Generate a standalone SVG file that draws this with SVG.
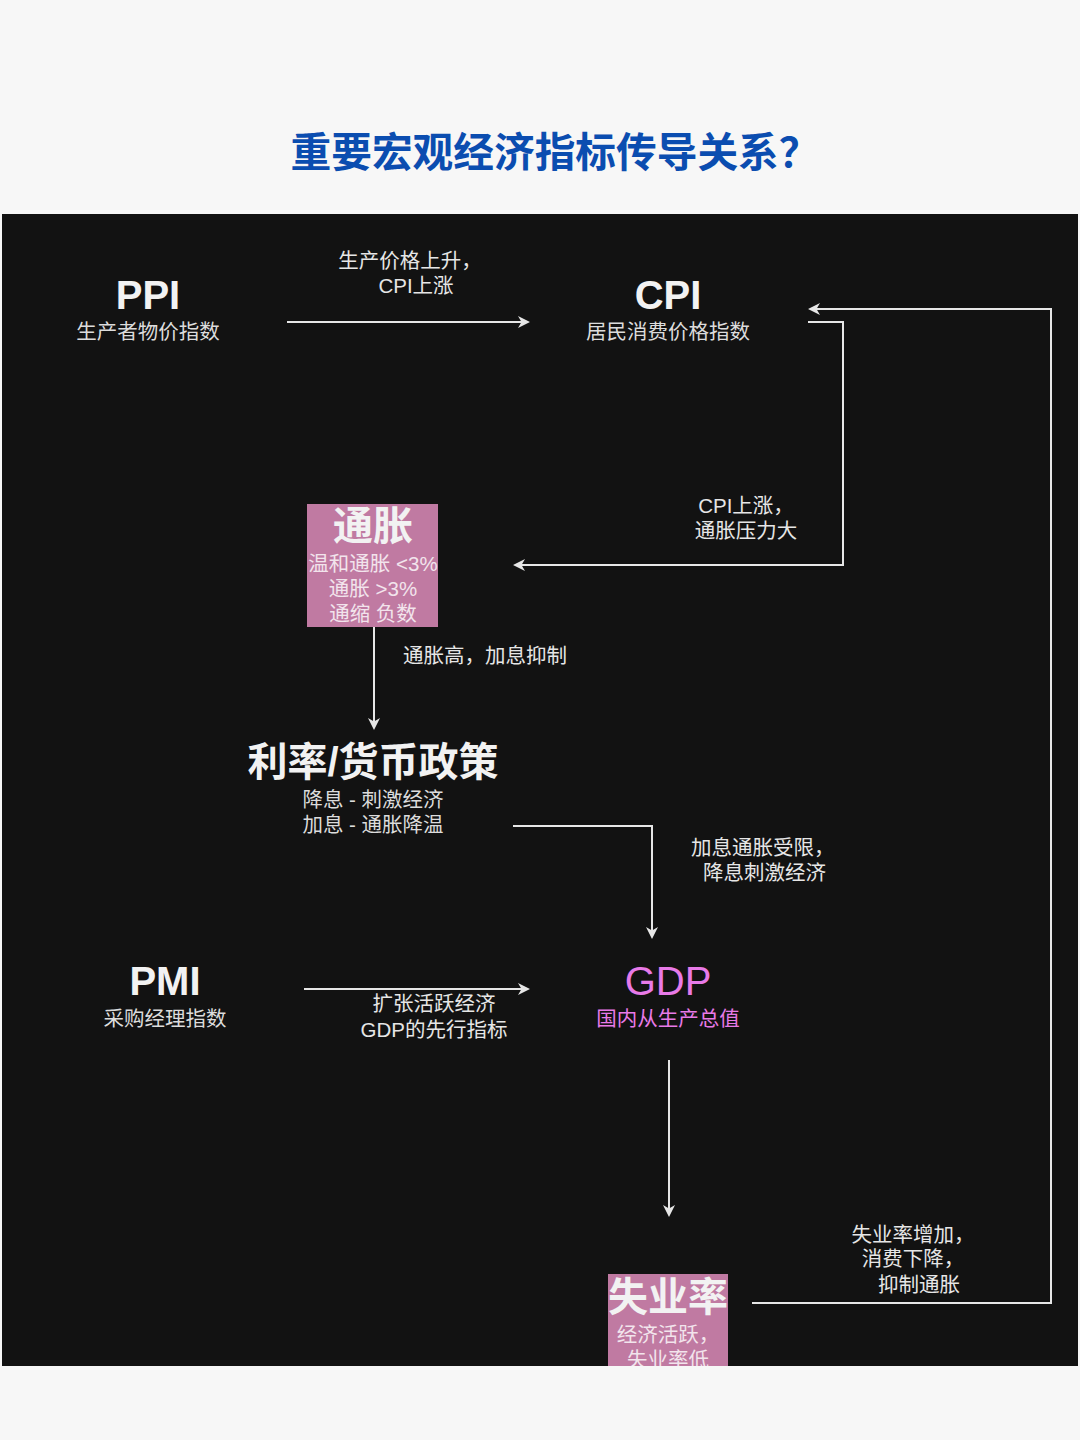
<svg xmlns="http://www.w3.org/2000/svg" width="1080" height="1440" viewBox="0 0 1080 1440">
<defs>
<style>
text{font-family:"Liberation Sans","Noto Sans CJK SC",sans-serif;fill:#ececec;text-anchor:middle}
.t{font-size:40px;font-weight:bold;fill:#f2f2f2}
.s{font-size:20.5px;fill:#dcdcdc}
.l{font-size:20.5px;fill:#e6e6e6}
.g{fill:#e87ae8}
.c{fill:none;stroke:#e6e6e6;stroke-width:2}
</style>
<marker id="ah" viewBox="0 0 12 12" refX="10" refY="6" markerWidth="12" markerHeight="12" markerUnits="userSpaceOnUse" orient="auto">
<path d="M0,0 L12,6 L0,12 L3.5,6 z" fill="#e6e6e6"/>
</marker>
<clipPath id="panel"><rect x="2" y="214" width="1076" height="1152"/></clipPath>
</defs>
<rect width="1080" height="1440" fill="#f7f7f7"/>
<text x="555" y="167" style="font-size:40.7px;font-weight:bold;fill:#0b4db0;font-family:'Noto Sans CJK SC',sans-serif">重要宏观经济指标传导关系？</text>
<rect x="2" y="214" width="1076" height="1152" fill="#121212"/>
<g clip-path="url(#panel)">
<g id="connectors">
<path class="c" d="M287,322 H528" marker-end="url(#ah)"/>
<path class="c" d="M808,322 H843 V565 H515" marker-end="url(#ah)"/>
<path class="c" d="M752,1303 H1051 V309 H810" marker-end="url(#ah)"/>
<path class="c" d="M374,627 V728" marker-end="url(#ah)"/>
<path class="c" d="M513,826 H652 V937" marker-end="url(#ah)"/>
<path class="c" d="M304,989 H528" marker-end="url(#ah)"/>
<path class="c" d="M669,1060 V1215" marker-end="url(#ah)"/>
<text class="l" x="410" y="268">生产价格上升，</text>
<text class="l" x="416" y="293">CPI上涨</text>
<text class="l" x="746" y="513">CPI上涨，</text>
<text class="l" x="746" y="538">通胀压力大</text>
<text class="l" x="403" y="663" style="text-anchor:start">通胀高，加息抑制</text>
<text class="l" x="691" y="855" style="text-anchor:start">加息通胀受限，</text>
<text class="l" x="826" y="880" style="text-anchor:end">降息刺激经济</text>
<text class="l" x="434" y="1011">扩张活跃经济</text>
<text class="l" x="434" y="1037">GDP的先行指标</text>
<text class="l" x="913" y="1242">失业率增加，</text>
<text class="l" x="913" y="1266">消费下降，</text>
<text class="l" x="919" y="1292">抑制通胀</text>
</g>
<g id="ppi">
<text class="t" x="148" y="309">PPI</text>
<text class="s" x="148" y="339">生产者物价指数</text>
</g>
<g id="cpi">
<text class="t" x="668" y="309">CPI</text>
<text class="s" x="668" y="339">居民消费价格指数</text>
</g>
<g id="inflation">
<rect x="307" y="504" width="131" height="123" fill="#c07aa2"/>
<text class="t" x="373" y="540">通胀</text>
<text class="s" x="373" y="571" style="fill:#f2e4ec">温和通胀 &lt;3%</text>
<text class="s" x="373" y="596" style="fill:#f2e4ec">通胀 &gt;3%</text>
<text class="s" x="373" y="621" style="fill:#f2e4ec">通缩 负数</text>
</g>
<g id="rate">
<text class="t" x="373" y="776">利率/货币政策</text>
<text class="s" x="373" y="807">降息 - 刺激经济</text>
<text class="s" x="373" y="832">加息 - 通胀降温</text>
</g>
<g id="pmi">
<text class="t" x="165" y="995">PMI</text>
<text class="s" x="165" y="1026">采购经理指数</text>
</g>
<g id="gdp">
<text class="t g" x="668" y="995" style="font-weight:normal">GDP</text>
<text class="s g" x="668" y="1026">国内从生产总值</text>
</g>
<g id="unemployment">
<rect x="608" y="1274" width="120" height="100" fill="#c07aa2"/>
<text class="t" x="668" y="1311">失业率</text>
<text class="s" x="668" y="1342" style="fill:#f2e4ec">经济活跃，</text>
<text class="s" x="668" y="1367" style="fill:#f2e4ec">失业率低</text>
</g>
</g>
</svg>
